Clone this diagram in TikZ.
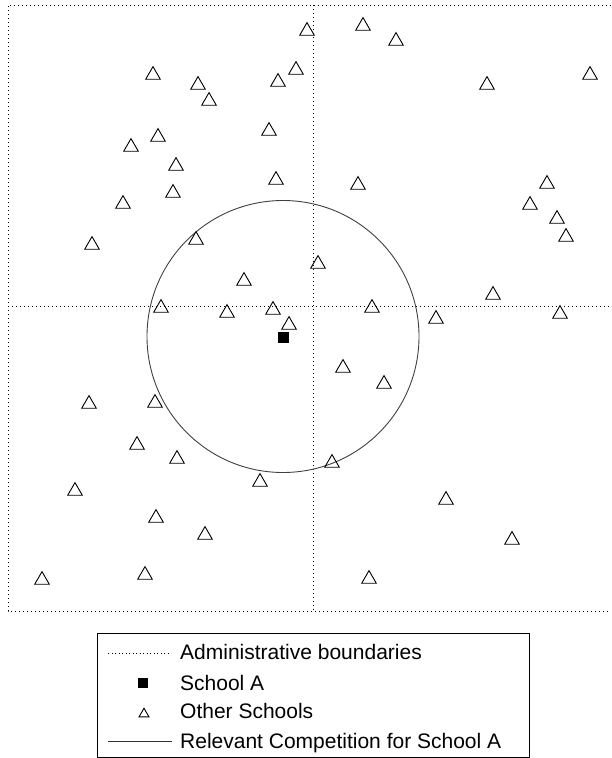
\documentclass[tikz,border=0pt]{standalone}
\usepackage{fontspec}
\setmainfont{Liberation Sans}
\usetikzlibrary{shapes.geometric}
\tikzset{
  boundary/.style={line width=1pt, dash pattern=on 1pt off 3pt, black},
  other/.style={draw=black, line width=0.9pt, regular polygon, regular polygon sides=3,
    minimum size=16.8pt, inner sep=0pt, yshift=-2pt},
  legother/.style={other, minimum size=11.5pt, yshift=-1pt},
  schoolA/.style={fill=black, minimum size=11pt, inner sep=0pt},
  ring/.style={draw=black!75, line width=0.9pt, circle, minimum size=272pt, inner sep=0pt},
  legtext/.style={anchor=base west, inner sep=0pt, font=\fontsize{21}{25}\selectfont},
}
\begin{document}
\begin{tikzpicture}[x=1pt, y=-1pt]
\useasboundingbox (0,0) rectangle (611,758);

% administrative boundaries
\coordinate (tl) at (8,5);
\coordinate (tr) at (611,5);
\coordinate (bl) at (8,611);
\coordinate (br) at (611,611);
\coordinate (vt) at (313,5);
\coordinate (vb) at (313,611);
\coordinate (hl) at (8,306);
\coordinate (hr) at (611,306);
\draw[boundary] (tr) -- (tl) -- (bl) -- (br);
\draw[boundary] (vt) -- (vb);
\draw[boundary] (hl) -- (hr);

% competition zone and School A
\node[ring] (zone) at (283,336.5) {};
\node[schoolA] (A) at (283,337) {};

% other schools
\foreach \x/\y [count=\i] in {
  307/29, 363/24, 396/39, 153/73, 296/68, 198/83, 278/80, 209/99, 487/83, 590/73,
  269/129, 158/135, 131/145, 176/164, 276/178, 358/183, 547/182, 173/191, 123/202, 530/203,
  557/217, 566/235, 92/243, 196/238, 318/262, 244/279, 493/293, 161/306, 227/311, 273/308,
  372/306, 560/312, 289/323, 436/317, 343/366, 384/382, 89/402, 155/401, 137/443, 177/457,
  332/461, 260/480, 75/489, 446/498, 156/516, 205/533, 512/538, 42/578, 145/573, 369/577}
  \node[other] (s\i) at (\x,\y) {};

% legend
\node[draw=black, line width=0.9pt, minimum width=432pt, minimum height=124pt, inner sep=0pt]
  (legend) at (313,695) {};
\coordinate (d1) at (108,653);
\coordinate (d2) at (171,653);
\draw[boundary, line width=0.8pt, dash pattern=on 1pt off 2.5pt] (d1) -- (d2);
\node[legtext] (t1) at (180,659) {Administrative boundaries};
\node[schoolA, minimum size=10pt] (lA) at (143,683) {};
\node[legtext] (t2) at (180,690) {School A};
\node[legother] (lo) at (144,711) {};
\node[legtext] (t3) at (180,718) {Other Schools};
\coordinate (c1) at (108,741);
\coordinate (c2) at (172,741);
\draw[black!80, line width=0.9pt] (c1) -- (c2);
\node[legtext] (t4) at (180,748) {Relevant Competition for School A};
\end{tikzpicture}
\end{document}
